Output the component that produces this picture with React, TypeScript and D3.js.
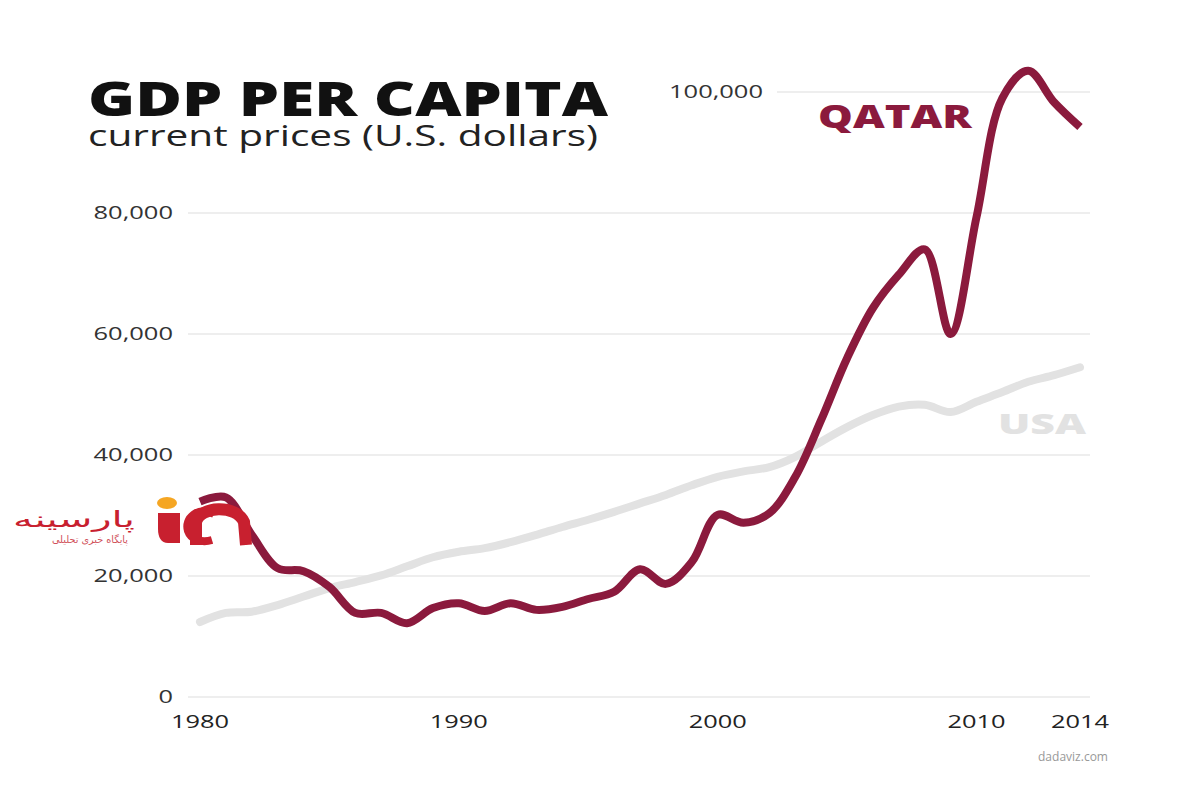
import React from 'react';
import * as d3 from 'd3';

// GDP per capita, current prices (US$)
const years = d3.range(1980, 2015);
const qatar = [
  32300, 33000, 26800, 21300, 20800, 18200, 13900, 13900, 12200, 14700,
  15500, 14200, 15500, 14400, 14900, 16200, 17400, 21100, 18700, 22300,
  30100, 28800, 30400, 36400, 45800, 56000, 64300, 69800, 74000, 60000,
  79300, 99000, 103500, 98300, 94200,
];
const usa = [
  12400, 13900, 14100, 15200, 16600, 18000, 19000, 20100, 21600, 23100,
  24000, 24600, 25600, 26800, 28100, 29300, 30600, 32000, 33400, 35000,
  36400, 37300, 38000, 39700, 42200, 44600, 46600, 48000, 48300, 47100,
  48800, 50400, 52100, 53200, 54500,
];
const yTicks = [0, 20000, 40000, 60000, 80000, 100000];
const xTicks = [1980, 1990, 2000, 2010, 2014];

const W = 1200;
const H = 800;
const QATAR_COLOR = '#8b1a3d';
const USA_COLOR = '#e2e2e2';
const FONT = '"Open Sans", "DejaVu Sans", sans-serif';

// the reference is stretched sideways, so numbers get a forced width
const numWidth = (s: string) => s.replace(/,/g, '').length * 14.5 + (s.includes(',') ? 7 : 0);

export default function App() {
  const x = d3.scaleLinear().domain([1980, 2014]).range([200, 1080]);
  const y = d3.scaleLinear().domain([0, 100000]).range([697, 92]);
  const fmt = d3.format(',');

  const line = d3.line<number>()
    .x((_, i) => x(years[i]))
    .y(d => y(d))
    .curve(d3.curveCatmullRom.alpha(0.5));

  return (
    <svg width={W} height={H} style={{ position: 'absolute', left: 0, top: 0, background: '#fff' }}>
      {/* grid */}
      {yTicks.map(t => (
        <g key={t}>
          <line x1={t === 100000 ? 777 : 188} x2={1090} y1={y(t)} y2={y(t)} stroke="#e8e8e8" strokeWidth={1.5} />
          <text
            x={t === 100000 ? 763 : 173}
            y={y(t)}
            dy="0.35em"
            textAnchor="end"
            fontFamily={FONT}
            fontSize={18}
            fill="#333"
            textLength={numWidth(fmt(t))}
            lengthAdjust="spacingAndGlyphs"
          >
            {fmt(t)}
          </text>
        </g>
      ))}
      {xTicks.map(t => (
        <text key={t} x={x(t)} y={728} textAnchor="middle" fontFamily={FONT} fontSize={18.5} fill="#222"
          textLength={numWidth(String(t))} lengthAdjust="spacingAndGlyphs">
          {t}
        </text>
      ))}

      {/* lines */}
      <path d={line(usa) ?? ''} fill="none" stroke={USA_COLOR} strokeWidth={8} strokeLinecap="round" />
      <path d={line(qatar) ?? ''} fill="none" stroke={QATAR_COLOR} strokeWidth={8} strokeLinecap="butt" strokeLinejoin="round" />

      {/* series labels */}
      <text x={818} y={128} fontFamily={FONT} fontWeight={800} fontSize={32} fill={QATAR_COLOR}
        textLength={154} lengthAdjust="spacingAndGlyphs">QATAR</text>
      <text x={998} y={434} fontFamily={FONT} fontWeight={800} fontSize={29} fill={USA_COLOR}
        textLength={88} lengthAdjust="spacingAndGlyphs">USA</text>

      {/* title */}
      <text x={88} y={116} fontFamily={FONT} fontWeight={800} fontSize={48} fill="#111"
        textLength={520} lengthAdjust="spacingAndGlyphs">GDP PER CAPITA</text>
      <text x={88} y={146} fontFamily={FONT} fontSize={29} fill="#222"
        textLength={510} lengthAdjust="spacingAndGlyphs">current prices (U.S. dollars)</text>

      {/* source */}
      <text x={1108} y={761} textAnchor="end" fontFamily={FONT} fontSize={13} fill="#999"
        textLength={70} lengthAdjust="spacingAndGlyphs">dadaviz.com</text>

      {/* watermark logo, laid over the lines */}
      <g>
        <text x={135} y={527} textAnchor="end" fontFamily='"DejaVu Sans", sans-serif' fontSize={22} fill="#c8202f"
          textLength={122} lengthAdjust="spacingAndGlyphs">پارسینه</text>
        <text x={128} y={543} textAnchor="end" fontFamily='"DejaVu Sans", sans-serif' fontSize={10} fill="#d0505a"
          textLength={76} lengthAdjust="spacingAndGlyphs">پایگاه خبری تحلیلی</text>
        <ellipse cx={167} cy={503} rx={10} ry={6} fill="#f5a623" />
        <path d="M158,513 L180,513 L180,543 L168,543 C161,543 158,537 158,529 Z" fill="#c8202f" />
        <path d="M214,514 C198,506 184,518 188,531 C191,540 202,543 212,540" fill="none" stroke="#c8202f" strokeWidth={8} />
        <path d="M196,545 L196,522 C200,506 236,504 244,522 L246,545" fill="none" stroke="#c8202f" strokeWidth={12} />
      </g>
    </svg>
  );
}
